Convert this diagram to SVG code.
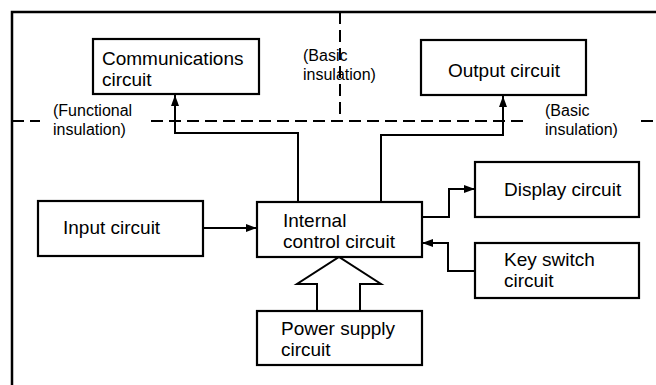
<svg xmlns="http://www.w3.org/2000/svg" width="656" height="385" viewBox="0 0 656 385">
<style>
  .box { fill: #fff; stroke: #000; stroke-width: 2.2; }
  .lbl { font-family: "Liberation Sans", Arial, Helvetica, sans-serif; font-size: 19px; fill: #000; }
  .sm { font-family: "Liberation Sans", Arial, Helvetica, sans-serif; font-size: 16px; fill: #000; }
  .conn { fill: none; stroke: #000; stroke-width: 2; }
  .dash { fill: none; stroke: #000; stroke-width: 2; stroke-dasharray: 12 6; }
  .frame { fill: none; stroke: #000; stroke-width: 2.5; }
</style>
<defs>
  <marker id="ah" markerWidth="11" markerHeight="8" refX="11" refY="4" orient="auto" markerUnits="userSpaceOnUse">
    <path d="M0,0 L11,4 L0,8 Z" fill="#000"/>
  </marker>
</defs>
<rect width="656" height="385" fill="#fff"/>
<g id="frame">
  <path class="frame" d="M12,385 V12 H656"/>
</g>
<g id="insulation">
  <path class="dash" d="M12,121 H40"/>
  <path class="dash" d="M151,121 H527"/>
  <path class="dash" d="M641,121 H656"/>
  <path class="dash" d="M340,12 V121"/>
  <text class="sm" x="53" y="116">(Functional</text>
  <text class="sm" x="53" y="134.5">insulation)</text>
  <text class="sm" x="303" y="61">(Basic</text>
  <text class="sm" x="303" y="79.5">insulation)</text>
  <text class="sm" x="545" y="116">(Basic</text>
  <text class="sm" x="545" y="134.5">insulation)</text>
</g>
<g id="connectors">
  <path class="conn" d="M298,202 V133 H175 V95" marker-end="url(#ah)"/>
  <path class="conn" d="M381,202 V135 H503 V96" marker-end="url(#ah)"/>
  <path class="conn" d="M203,228 H257" marker-end="url(#ah)"/>
  <path class="conn" d="M422,217 H449 V189 H475" marker-end="url(#ah)"/>
  <path class="conn" d="M475,271 H448 V243 H422" marker-end="url(#ah)"/>
  <polygon points="317,311 317,284 297,284 339,257 381,284 360,284 360,311" fill="#fff" stroke="#000" stroke-width="2"/>
</g>
<g id="communications">
  <rect class="box" x="93" y="39" width="166" height="55"/>
  <text class="lbl" x="102" y="65">Communications</text>
  <text class="lbl" x="102" y="86">circuit</text>
</g>
<g id="output">
  <rect class="box" x="421" y="40" width="165" height="55"/>
  <text class="lbl" x="448" y="77">Output circuit</text>
</g>
<g id="display">
  <rect class="box" x="475" y="162" width="164" height="55"/>
  <text class="lbl" x="504" y="196">Display circuit</text>
</g>
<g id="keyswitch">
  <rect class="box" x="475" y="243" width="164" height="55"/>
  <text class="lbl" x="504" y="266">Key switch</text>
  <text class="lbl" x="504" y="287">circuit</text>
</g>
<g id="input">
  <rect class="box" x="38" y="201" width="165" height="55"/>
  <text class="lbl" x="63" y="234">Input circuit</text>
</g>
<g id="control">
  <rect class="box" x="257" y="202" width="165" height="55"/>
  <text class="lbl" x="283" y="227">Internal</text>
  <text class="lbl" x="283" y="248">control circuit</text>
</g>
<g id="power">
  <rect class="box" x="257" y="311" width="165" height="54"/>
  <text class="lbl" x="281" y="335">Power supply</text>
  <text class="lbl" x="281" y="356">circuit</text>
</g>
</svg>
